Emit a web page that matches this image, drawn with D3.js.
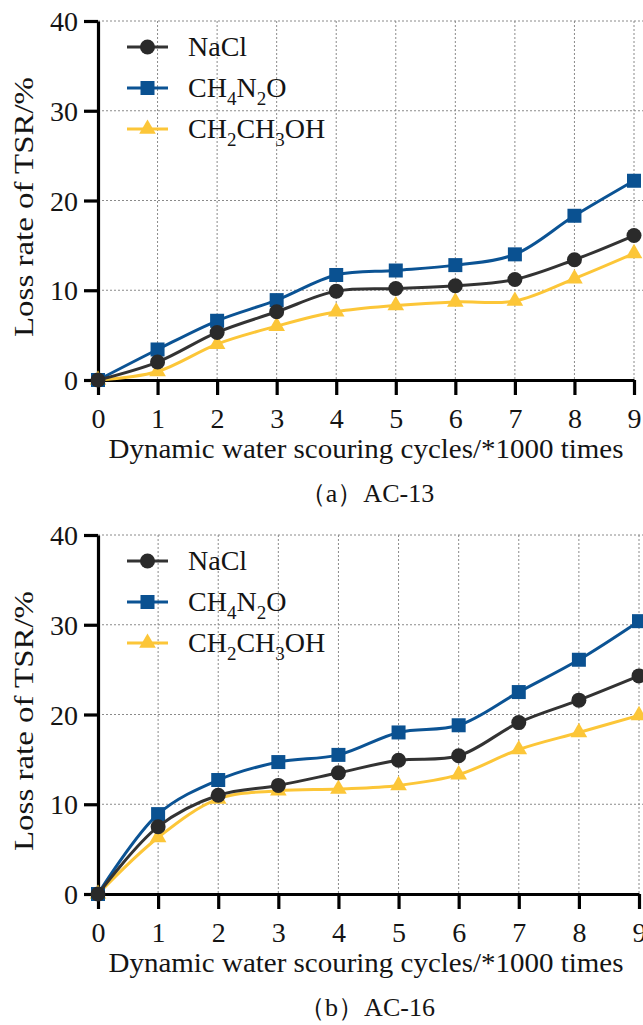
<!DOCTYPE html>
<html><head><meta charset="utf-8">
<script src="https://cdn.jsdelivr.net/npm/d3@7"></script>
<style>body{margin:0;background:#fff}svg{display:block}text{font-family:"Liberation Serif","Times New Roman",serif;fill:#141414}</style>
</head><body><svg id="c" width="643" height="1025"></svg>
<script>
const cycles=[0,1,2,3,4,5,6,7,8,9];
const yTicks=[0,10,20,30,40];
const seriesNames=["NaCl","CH4N2O","CH2CH3OH"];
const ac13_NaCl=[0,2.0,5.3,7.6,9.9,10.2,10.5,11.2,13.4,16.1];
const ac13_CH4N2O=[0,3.4,6.6,8.9,11.7,12.2,12.8,14.0,18.3,22.2];
const ac13_CH2CH3OH=[0,0.95,4.0,6.0,7.6,8.3,8.7,8.8,11.3,14.1];
const ac16_NaCl=[0,7.5,11.0,12.1,13.5,14.9,15.4,19.1,21.6,24.3];
const ac16_CH4N2O=[0,8.9,12.7,14.7,15.5,18.0,18.8,22.5,26.1,30.4];
const ac16_CH2CH3OH=[0,6.3,10.6,11.5,11.7,12.1,13.3,16.1,18.0,19.9];
const captions=["（a）AC-13","（b）AC-16"];
const xTitle="Dynamic water scouring cycles/*1000 times";
const yTitle="Loss rate of TSR/%";

const colors={NaCl:"#333333",CH4N2O:"#0b5394",CH2CH3OH:"#fcc638"};
const svg=d3.select("#c");

function panel(top,xRight,data,caption){
  const g=svg.append("g");
  const x=d3.scaleLinear().domain([0,9]).range([98,xRight]);
  const y=d3.scaleLinear().domain([0,40]).range([top+359,top]);
  // grid
  g.append("g").selectAll("line").data(cycles.slice(1)).join("line")
    .attr("x1",d=>x(d)).attr("x2",d=>x(d)).attr("y1",y(40)).attr("y2",y(0))
    .attr("stroke","#8a8a8a").attr("stroke-width",1).attr("stroke-dasharray","2,2");
  g.append("g").selectAll("line").data(yTicks.slice(1)).join("line")
    .attr("x1",x(0)).attr("x2",643).attr("y1",d=>y(d)).attr("y2",d=>y(d))
    .attr("stroke","#8a8a8a").attr("stroke-width",1).attr("stroke-dasharray","2,2");
  // axes
  const ya=g.append("g").attr("transform",`translate(${x(0)},0)`)
    .call(d3.axisLeft(y).tickValues(yTicks).tickSize(14).tickSizeOuter(0).tickPadding(6));
  const xa=g.append("g").attr("transform",`translate(0,${y(0)})`)
    .call(d3.axisBottom(x).tickValues(cycles).tickSize(15).tickSizeOuter(0).tickPadding(13));
  [ya,xa].forEach(a=>{
    a.select(".domain").attr("stroke","#000").attr("stroke-width",3.2);
    a.selectAll(".tick line").attr("stroke","#000").attr("stroke-width",3.2);
    a.selectAll(".tick text").attr("font-size",28).attr("fill","#141414")
      .attr("font-family",'"Liberation Serif",serif');
  });
  ya.selectAll(".tick text").attr("dy","0.34em");
  // titles
  g.append("text").attr("x",366).attr("y",y(0)+78).attr("text-anchor","middle")
    .attr("font-size",28).attr("textLength",515).attr("lengthAdjust","spacingAndGlyphs").text(xTitle);
  g.append("text").attr("transform",`translate(33,${top+186}) rotate(-90)`)
    .attr("text-anchor","middle").attr("font-size",28)
    .attr("textLength",260).attr("lengthAdjust","spacingAndGlyphs").text(yTitle);
  g.append("text").attr("x",367).attr("y",y(0)+122).attr("text-anchor","middle")
    .attr("font-size",26).text(caption);
  // lines
  const line=d3.line().x((d,i)=>x(cycles[i])).y(d=>y(d)).curve(d3.curveCatmullRom.alpha(0.5));
  const order=["CH2CH3OH","CH4N2O","NaCl"];
  order.forEach(name=>{
    const vals=data[name];
    g.append("path").attr("d",line(vals)).attr("fill","none")
      .attr("stroke",colors[name]).attr("stroke-width",3);
    marker(g,name,vals.map((v,i)=>[x(cycles[i]),y(v)]));
  });
  // legend
  const lg=g.append("g");
  seriesNames.forEach((name,i)=>{
    const ly=top+26+i*41;
    lg.append("line").attr("x1",127).attr("x2",168).attr("y1",ly).attr("y2",ly)
      .attr("stroke",colors[name]).attr("stroke-width",3);
    marker(lg,name,[[147.5,ly]]);
    const t=lg.append("text").attr("x",188).attr("y",ly+9).attr("font-size",28);
    const parts=name.match(/[A-Za-z]+|\d+/g);
    let prevSub=false;
    parts.forEach(p=>{
      if(/\d/.test(p)){ t.append("tspan").attr("font-size",19).attr("dy",8).text(p); prevSub=true; }
      else { const ts=t.append("tspan").text(p); if(prevSub) ts.attr("dy",-8); prevSub=false; }
    });
  });
}
function marker(g,name,pts){
  const c=colors[name];
  if(name==="NaCl"){
    g.selectAll(null).data(pts).join("circle").attr("cx",d=>d[0]).attr("cy",d=>d[1])
      .attr("r",7.5).attr("fill","#2a2a2a");
  } else if(name==="CH4N2O"){
    g.selectAll(null).data(pts).join("rect").attr("x",d=>d[0]-7).attr("y",d=>d[1]-7)
      .attr("width",14).attr("height",14).attr("fill","#0a5191");
  } else {
    const sym=d3.symbol().type(d3.symbolTriangle).size(120);
    g.selectAll(null).data(pts).join("path").attr("transform",d=>`translate(${d[0]},${d[1]})`)
      .attr("d",sym).attr("fill",c);
  }
}
panel(21,634,{NaCl:ac13_NaCl,CH4N2O:ac13_CH4N2O,CH2CH3OH:ac13_CH2CH3OH},captions[0]);
panel(535,639,{NaCl:ac16_NaCl,CH4N2O:ac16_CH4N2O,CH2CH3OH:ac16_CH2CH3OH},captions[1]);
</script></body></html>
